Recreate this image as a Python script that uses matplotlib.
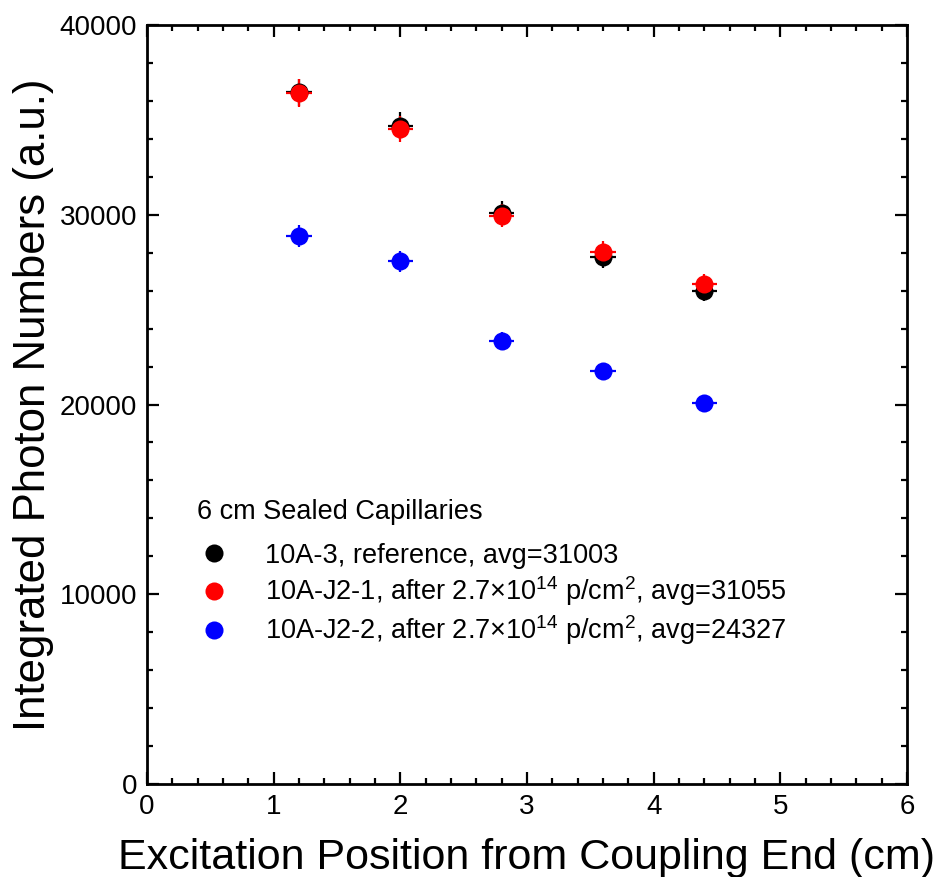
import matplotlib
matplotlib.use("Agg")
import matplotlib.pyplot as plt
from matplotlib.ticker import MultipleLocator
from matplotlib.lines import Line2D

plt.rcParams["font.family"] = ["Liberation Sans", "DejaVu Sans"]
plt.rcParams["mathtext.fontset"] = "custom"
plt.rcParams["mathtext.rm"] = "Liberation Sans"
plt.rcParams["mathtext.it"] = "Liberation Sans:italic"
plt.rcParams["mathtext.bf"] = "Liberation Sans:bold"

# Excitation positions (cm)
positions = [1.2, 2.0, 2.8, 3.6, 4.4]
pos_err = [0.1, 0.1, 0.1, 0.1, 0.1]

# Integrated photon numbers per capillary
ref_10A3 = [36450, 34700, 30100, 27780, 25985]
ref_10A3_err = [730, 690, 600, 560, 520]
j2_1 = [36400, 34520, 29950, 28050, 26355]
j2_1_err = [730, 690, 600, 560, 530]
j2_2 = [28870, 27550, 23350, 21760, 20105]
j2_2_err = [580, 550, 470, 440, 400]

series_labels = [
    "10A-3, reference, avg=31003",
    r"10A-J2-1, after 2.7$\times$$\mathregular{10^{14}}$ p/cm$\mathregular{^{2}}$, avg=31055",
    r"10A-J2-2, after 2.7$\times$$\mathregular{10^{14}}$ p/cm$\mathregular{^{2}}$, avg=24327",
]
series_colors = ["black", "red", "blue"]
legend_title = "6 cm Sealed Capillaries"

fig = plt.figure(figsize=(9.49, 8.77), dpi=100)
ax = fig.add_axes([0.1549, 0.1060, 0.8008, 0.8655])

data = [(ref_10A3, ref_10A3_err), (j2_1, j2_1_err), (j2_2, j2_2_err)]
for (vals, errs), col in zip(data, series_colors):
    ax.errorbar(positions, vals, xerr=pos_err, yerr=errs, fmt="o",
                color=col, ecolor=col, markersize=13, elinewidth=1.6,
                capsize=0, markeredgewidth=0)

ax.set_xlim(0, 6)
ax.set_ylim(0, 40000)
ax.xaxis.set_major_locator(MultipleLocator(1))
ax.xaxis.set_minor_locator(MultipleLocator(0.2))
ax.yaxis.set_major_locator(MultipleLocator(10000))
ax.yaxis.set_minor_locator(MultipleLocator(2000))

for s in ax.spines.values():
    s.set_linewidth(2.0)
ax.tick_params(which="both", direction="in", top=True, right=True,
               labelsize=20, width=1.6, pad=7)
ax.tick_params(which="major", length=8.5)
ax.tick_params(which="minor", length=4.3)

ax.set_xlabel("Excitation Position from Coupling End (cm)", fontsize=31, labelpad=13)
ax.set_ylabel("Integrated Photon Numbers (a.u.)", fontsize=31.5, labelpad=4)

handles = [Line2D([], [], marker="o", linestyle="none", color=c,
                  markersize=13, markeredgewidth=0) for c in series_colors]
leg = ax.legend(handles, series_labels, title=legend_title, loc="upper left",
                bbox_to_anchor=(0.052, 0.39), frameon=False, fontsize=19.5,
                title_fontsize=19.5, alignment="left", handletextpad=1.3,
                labelspacing=0.2, borderaxespad=0, handlelength=1.2)
leg._legend_box.sep = 13

fig.savefig("out.png", dpi=100)
